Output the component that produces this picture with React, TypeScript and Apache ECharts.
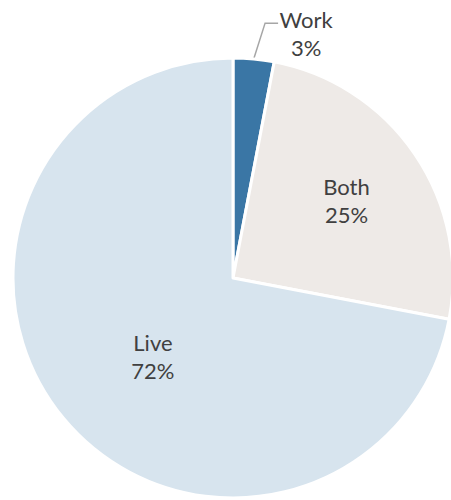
import React, { useEffect, useRef } from "react";
import * as echarts from "echarts";

const categories = ["Work", "Both", "Live"];
const values = [3, 25, 72];
const colors = ["#3A76A5", "#EEEAE7", "#D7E4EE"];

export default function App() {
  const ref = useRef<HTMLDivElement>(null);
  useEffect(() => {
    if (!ref.current) return;
    const chart = echarts.init(ref.current, undefined, { renderer: "svg" });
    const data = categories.map((name, i) => ({
      name,
      value: values[i],
      itemStyle: { color: colors[i] },
      label:
        i === 0
          ? { position: "outside" as const }
          : { position: "inside" as const },
      labelLine: { show: i === 0 },
    }));
    chart.setOption({
      animation: false,
      series: [
        {
          type: "pie",
          center: [233, 278],
          radius: [0, 220],
          startAngle: 90,
          clockwise: true,
          avoidLabelOverlap: false,
          data,
          itemStyle: { borderColor: "#ffffff", borderWidth: 3 },
          label: {
            show: true,
            formatter: "{b}\n{c}%",
            fontFamily: "Lato",
            fontSize: 22,
            lineHeight: 28,
            color: "#404040",
            align: "center",
          },
          labelLine: {
            show: true,
            length: 36,
            length2: 12,
            lineStyle: { color: "#A6A6A6", width: 1.5 },
          },
          labelLayout: (params: any) => {
            if (params.dataIndex === 1) return { dx: 20, dy: -14 };
            if (params.dataIndex === 2) return { dx: 7, dy: 6 };
            const pts = params.labelLinePoints;
            if (pts && pts.length >= 2) {
              const p0 = pts[0];
              const p1 = pts[1];
              const q1 = [p1[0] + 8, p1[1]];
              const q2 = [p1[0] + 21, p1[1]];
              return {
                x: q2[0] + 28,
                y: q2[1] + 10,
                align: "center",
                verticalAlign: "middle",
                labelLinePoints: [p0, q1, q2],
              };
            }
            return {};
          },
        },
      ],
    });
    return () => chart.dispose();
  }, []);
  return (
    <div
      ref={ref}
      style={{ position: "absolute", left: 0, top: 0, width: 451, height: 500 }}
    />
  );
}
